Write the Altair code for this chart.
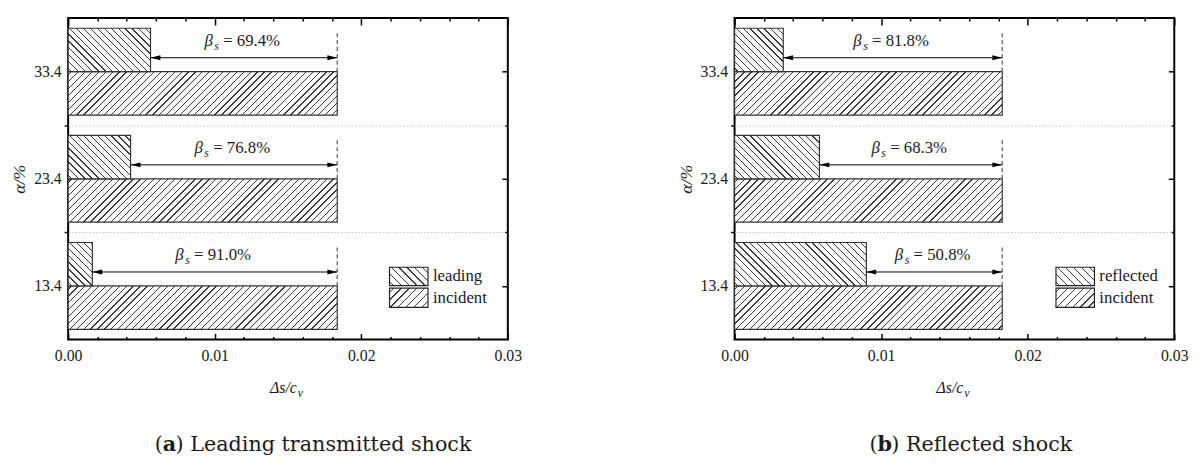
import math
import json
import altair as alt
import pandas as pd

# ---------------- data ----------------
categories = ["13.4", "23.4", "33.4"]
cat_index = [0, 1, 2]

incident_a = [0.01836, 0.01836, 0.01836]
leading_a = [0.00165, 0.00426, 0.00562]
beta_a = [91.0, 76.8, 69.4]

incident_b = [0.01826, 0.01826, 0.01826]
reflected_b = [0.00899, 0.00579, 0.00332]
beta_b = [50.8, 68.3, 81.8]

x_ticks = [round(i * 0.002, 3) for i in range(16)]
y_ticks = [0.5, 1.0, 1.5, 2.0, 2.5]

captions = [("a", ") Leading transmitted shock"), ("b", ") Reflected shock")]
legend_names = [["leading", "incident"], ["reflected", "incident"]]

# ---------------- style ----------------
PW, PH = 446, 326
XMAX = 0.03
SERIF = "Liberation Serif"
CAPFONT = "DejaVu Serif"
INK = "#1a1a1a"
PAD = 0.095
BAR_PX = (0.5 - PAD) * PH / 3.0


def hatch(w, h, kind, spacing=7.0, lw=0.9, color="#3a3a3a"):
    r = h / w
    a = (1 + r) / (1 + r * r)
    if kind == "fwd":
        x1, y1, x2, y2 = 0, 0, a, a * r
    else:
        x1, y1, x2, y2 = 0, 1, a, 1 - a * r
    total = w + h
    hw = lw * math.sqrt(2) / 2 / total
    stops = [{"offset": 0, "color": "white"}]
    k = 0
    while True:
        c = (k + 0.5) * spacing / total
        if c - hw >= 1:
            break
        lo = round(max(0.0, c - hw), 5)
        hi = round(min(1.0, c + hw), 5)
        stops += [
            {"offset": lo, "color": "white"},
            {"offset": lo, "color": color},
            {"offset": hi, "color": color},
            {"offset": hi, "color": "white"},
        ]
        k += 1
    stops.append({"offset": 1, "color": "white"})
    return {"gradient": "linear", "x1": x1, "y1": y1, "x2": x2, "y2": y2, "stops": stops}


xs = alt.Scale(domain=[0, XMAX], nice=False, zero=False)
ys = alt.Scale(domain=[0, 3], nice=False, zero=False)

major_test = "abs(datum.value*100 - round(datum.value*100)) < 1e-6"
int_test = "datum.value % 1 == 0"

bottom_axis = alt.Axis(
    orient="bottom", values=x_ticks, title=None, grid=False, domain=False,
    labelExpr=f"{major_test} ? format(datum.value, '.2f') : ''",
    tickSize={"condition": {"test": major_test, "value": -6}, "value": -3},
    tickColor="black", tickWidth=1.5, labelPadding=14,
    labelFont=SERIF, labelFontSize=16, labelColor=INK, labelFlush=False,
)
left_axis = alt.Axis(
    orient="left", values=y_ticks, title="α/%", grid=False, domain=False,
    labelExpr=f"datum.value % 1 == 0.5 ? {json.dumps(categories)}[floor(datum.value)] : ''",
    tickSize={"condition": {"test": int_test, "value": 4}, "value": 0},
    tickColor="black", tickWidth=1.5, labelPadding=7,
    labelFont=SERIF, labelFontSize=16, labelColor=INK,
    titleFont=SERIF, titleFontSize=18, titleFontStyle="italic",
    titleFontWeight="normal", titleColor=INK, titlePadding=5,
)
top_axis = alt.Axis(
    orient="top", values=x_ticks, title=None, grid=False, domain=False, labels=False,
    tickSize={"condition": {"test": major_test, "value": -7}, "value": -3},
    tickColor="black", tickWidth=1.5,
)
right_axis = alt.Axis(
    orient="right", values=y_ticks, title=None, domain=False, labels=False,
    grid=True, gridColor="#c4c4c4", gridDash=[1.5, 2], gridWidth=1,
    gridOpacity={"condition": {"test": int_test, "value": 1}, "value": 0},
    tickSize={"condition": {"test": int_test, "value": -3}, "value": -6},
    tickColor="black", tickWidth=1.5,
)


def X(f, axis=None):
    return alt.X(f, type="quantitative", scale=xs, axis=axis)


def Y(f, axis=None):
    return alt.Y(f, type="quantitative", scale=ys, axis=axis)


def one():
    return alt.Chart(pd.DataFrame({"k": [0]}))


def panel(inc, lead, beta, names, cap, c0, letter_w):
    df = pd.DataFrame({"cat": categories, "idx": cat_index, "inc": inc,
                       "lead": lead, "beta": beta})
    base = alt.Chart(df).transform_calculate(
        x0="0",
        y_lo=f"datum.idx + {PAD}",
        y_mid="datum.idx + 0.5",
        y_hi=f"datum.idx + {1 - PAD}",
        y_arrow="datum.idx + 0.63",
        y_text="datum.idx + 0.742",
        y_dash="datum.idx + 0.885",
        x_mid="(datum.lead + datum.inc) / 2",
        lab="'= ' + format(datum.beta, '.1f') + '%'",
    )
    layers = []
    # invisible carriers for the four axes
    layers.append(base.mark_point(opacity=0).encode(
        x=X("inc", bottom_axis), y=Y("y_mid", left_axis)))
    layers.append(base.mark_point(opacity=0).encode(
        x=X("inc", top_axis), y=Y("y_mid", right_axis)))

    for i in cat_index:
        w_inc = inc[i] / XMAX * PW
        layers.append(base.transform_filter(alt.datum.idx == i).mark_rect(
            fill=hatch(w_inc, BAR_PX, "fwd"), stroke="#333", strokeWidth=1.2
        ).encode(x=X("x0"), x2="inc:Q", y=Y("y_lo"), y2="y_mid:Q"))
    for i in cat_index:
        w_l = lead[i] / XMAX * PW
        layers.append(base.transform_filter(alt.datum.idx == i).mark_rect(
            fill=hatch(w_l, BAR_PX, "back"), stroke="#333", strokeWidth=1.2
        ).encode(x=X("x0"), x2="lead:Q", y=Y("y_mid"), y2="y_hi:Q"))

    layers.append(base.mark_rule(color="#555", strokeDash=[4, 3], strokeWidth=1.2).encode(
        x=X("inc"), y=Y("y_mid"), y2="y_dash:Q"))
    layers.append(base.mark_rule(color="black", strokeWidth=1).encode(
        x=X("lead"), x2="inc:Q", y=Y("y_arrow")))
    layers.append(base.mark_point(shape="M0,0L2,-0.5L2,0.5Z", filled=True, size=100,
                                  color="black", opacity=1, strokeWidth=0).encode(
        x=X("lead"), y=Y("y_arrow")))
    layers.append(base.mark_point(shape="M0,0L-2,-0.5L-2,0.5Z", filled=True, size=100,
                                  color="black", opacity=1, strokeWidth=0).encode(
        x=X("inc"), y=Y("y_arrow")))
    layers.append(base.mark_text(text="β", font=SERIF, fontStyle="italic", fontSize=17,
                                 align="left", baseline="alphabetic", dx=-40, color=INK).encode(
        x=X("x_mid"), y=Y("y_text")))
    layers.append(base.mark_text(text="s", font=SERIF, fontStyle="italic", fontSize=12,
                                 align="left", baseline="alphabetic", dx=-30, dy=4, color=INK).encode(
        x=X("x_mid"), y=Y("y_text")))
    layers.append(base.mark_text(font=SERIF, fontSize=17, align="left",
                                 baseline="alphabetic", dx=-21, color=INK).encode(
        x=X("x_mid"), y=Y("y_text"), text="lab:N"))

    # legend (drawn by hand so the swatches can carry the hatching)
    lx, lx2 = 326, 365
    rows = [(252.7, 271.3, "back"), (274.0, 293.5, "fwd")]
    for (ya, yb, kind), nm in zip(rows, names):
        layers.append(one().mark_rect(fill=hatch(lx2 - lx, yb - ya, kind, spacing=8.0),
                                      stroke="#222", strokeWidth=1.2).encode(
            x=alt.value(lx), x2=alt.value(lx2), y=alt.value(ya), y2=alt.value(yb)))
        layers.append(one().mark_text(text=nm, font=SERIF, fontSize=17, align="left",
                                      baseline="middle", color=INK).encode(
            x=alt.value(lx2 + 5), y=alt.value((ya + yb) / 2)))

    # x title  Δs/c_v
    layers.append(one().mark_text(text="Δs/c", font=SERIF, fontStyle="italic", fontSize=16,
                                  align="right", baseline="alphabetic", color=INK).encode(
        x=alt.value(232), y=alt.value(380)))
    layers.append(one().mark_text(text="v", font=SERIF, fontStyle="italic", fontSize=12,
                                  align="left", baseline="alphabetic", color=INK).encode(
        x=alt.value(233), y=alt.value(384)))

    # caption
    letter, rest = cap
    cy = 439
    layers.append(one().mark_text(text="(", font=CAPFONT, fontSize=21, align="right",
                                  baseline="alphabetic", color=INK).encode(
        x=alt.value(c0), y=alt.value(cy)))
    layers.append(one().mark_text(text=letter, font=CAPFONT, fontSize=21, fontWeight="bold",
                                  align="left", baseline="alphabetic", color=INK).encode(
        x=alt.value(c0), y=alt.value(cy)))
    layers.append(one().mark_text(text=rest, font=CAPFONT, fontSize=21, align="left",
                                  baseline="alphabetic", color=INK).encode(
        x=alt.value(c0 + letter_w), y=alt.value(cy)))

    return alt.layer(*layers).resolve_axis(
        x="independent", y="independent").properties(width=PW, height=PH)


pa = panel(incident_a, leading_a, beta_a, legend_names[0], captions[0], 96, 13)
pb = panel(incident_b, reflected_b, beta_b, legend_names[1], captions[1], 145, 14)

chart = alt.hconcat(pa, pb, spacing=156).properties(
    padding={"left": 2, "top": 5, "right": 5, "bottom": 0},
    background="white",
).configure_view(stroke="black", strokeWidth=2)

chart.save("out.html", embed_options={"renderer": "svg", "actions": False})
